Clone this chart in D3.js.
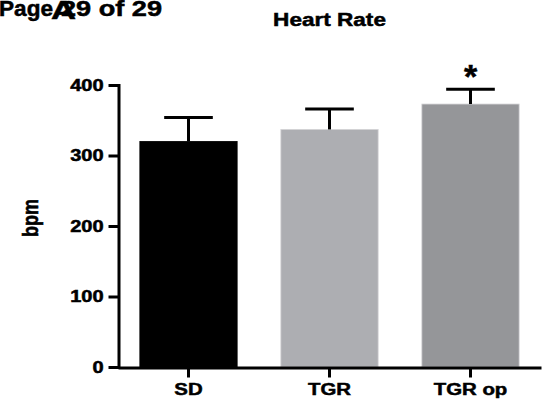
<!DOCTYPE html>
<html>
<head>
<meta charset="utf-8">
<script src="https://cdn.jsdelivr.net/npm/d3@7"></script>
<style>
  body { margin: 0; background: #fff; }
  text { font-family: "Liberation Sans", Arial, sans-serif; font-weight: bold; fill: #000; stroke: #000; stroke-width: 0.5px; }
</style>
</head>
<body>
<div id="graph"></div>
<script>
// data
var groups = ["SD", "TGR", "TGR op"]
var means = [320, 337, 373]
var errors = [34, 29, 21]
var colors = ["#000000", "#adaeb2", "#959699"]
var marks = ["", "", "*"]
var yTicks = [0, 100, 200, 300, 400]

var W = 548, H = 402

var svg = d3.select("#graph")
    .append("svg")
    .attr("width", W)
    .attr("height", H)

// scales
var x = d3.scaleBand()
    .domain(groups)
    .range([118, 541])
    .paddingInner(0.31)
    .paddingOuter(0.155)

var y = d3.scaleLinear()
    .domain([0, 400])
    .range([367, 85])

// page header with panel letter on top of it
svg.append("text")
    .attr("x", -1).attr("y", 15.5)
    .style("font-size", "22px")
    .attr("textLength", 54).attr("lengthAdjust", "spacingAndGlyphs")
    .text("Page")
svg.append("text")
    .attr("x", 61).attr("y", 15.5)
    .style("font-size", "22px")
    .attr("textLength", 101).attr("lengthAdjust", "spacingAndGlyphs")
    .text("29 of 29")
svg.append("text")
    .attr("x", 51).attr("y", 19)
    .style("font-size", "26px")
    .attr("textLength", 25).attr("lengthAdjust", "spacingAndGlyphs")
    .text("A")

// title
svg.append("text")
    .attr("transform", "translate(329.5,25.7) scale(1.22,1)")
    .attr("text-anchor", "middle")
    .style("font-size", "18.5px")
    .text("Heart Rate")

// bars
svg.selectAll(".bar")
    .data(groups)
    .enter().append("rect")
    .attr("class", "bar")
    .attr("x", function (d) { return x(d) })
    .attr("y", function (d, i) { return y(means[i]) })
    .attr("width", x.bandwidth())
    .attr("height", function (d, i) { return y(0) - y(means[i]) })
    .attr("fill", function (d, i) { return colors[i] })
    .attr("stroke", function (d, i) { return i == 0 ? "#000" : "#d4d4d6" })
    .attr("stroke-width", 0.8)

// error bars (upper only)
var cx = function (d) { return x(d) + x.bandwidth() / 2 }
svg.selectAll(".err")
    .data(groups)
    .enter().append("line")
    .attr("x1", cx).attr("x2", cx)
    .attr("y1", function (d, i) { return y(means[i]) })
    .attr("y2", function (d, i) { return y(means[i] + errors[i]) })
    .attr("stroke", "#000").attr("stroke-width", 3)
svg.selectAll(".cap")
    .data(groups)
    .enter().append("line")
    .attr("x1", function (d) { return cx(d) - x.bandwidth() / 4 })
    .attr("x2", function (d) { return cx(d) + x.bandwidth() / 4 })
    .attr("y1", function (d, i) { return y(means[i] + errors[i]) })
    .attr("y2", function (d, i) { return y(means[i] + errors[i]) })
    .attr("stroke", "#000").attr("stroke-width", 3)

// significance mark
svg.selectAll(".mark")
    .data(groups)
    .enter().append("text")
    .attr("x", cx)
    .attr("y", function (d, i) { return y(means[i] + errors[i]) - 1 })
    .attr("text-anchor", "middle")
    .style("font-size", "34px")
    .text(function (d, i) { return marks[i] })

// y axis
var yAxis = svg.append("g")
    .attr("transform", "translate(118.5,0)")
    .call(d3.axisLeft(y).tickValues(yTicks).tickSize(10).tickSizeOuter(0).tickPadding(2))
yAxis.select(".domain").attr("stroke-width", 3).attr("stroke-linecap", "square")
yAxis.selectAll(".tick line").attr("stroke-width", 3)
yAxis.selectAll(".tick text")
    .attr("font-family", null)
    .style("font-size", "16px")
    .attr("transform", "scale(1.25,1)")

// x axis
var xAxis = svg.append("g")
    .attr("transform", "translate(0,367.5)")
    .call(d3.axisBottom(x).tickSize(10).tickSizeOuter(0).tickPadding(5))
xAxis.select(".domain").attr("stroke-width", 3)
xAxis.selectAll(".tick line").attr("stroke-width", 3)
xAxis.selectAll(".tick text")
    .attr("font-family", null)
    .style("font-size", "17px")
    .attr("transform", "scale(1.2,1)")

// y label
svg.append("text")
    .attr("transform", "translate(38,218) rotate(-90) scale(1,1.2)")
    .attr("text-anchor", "middle")
    .style("font-size", "18px")
    .text("bpm")
</script>
</body>
</html>
